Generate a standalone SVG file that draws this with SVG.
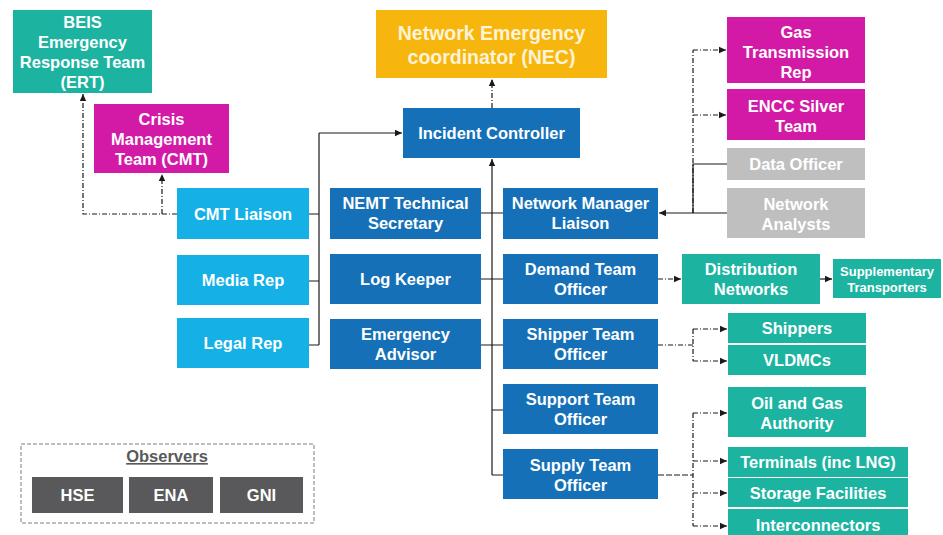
<svg xmlns="http://www.w3.org/2000/svg" width="943" height="535" viewBox="0 0 943 535">
  <style>
    .box { stroke: none; }
    .teal { fill: #1db3a1; }
    .mag { fill: #d31aa6; }
    .cyan { fill: #14b0e6; }
    .blue { fill: #1670b8; }
    .orange { fill: #f7b60e; }
    .grey { fill: #bfbfbf; }
    .dark { fill: #59595b; }
    .lbl { font-family: "Liberation Sans", Arial, sans-serif; font-weight: bold; font-size: 16.5px; fill: #ffffff; text-anchor: middle; }
    .big { font-size: 19.5px; fill: #fdf3d6; }
    .small { font-size: 13px; }
    .obs { fill: #595959; font-size: 16.5px; text-decoration: underline; }
    .ln { fill: none; stroke: #1a1a1a; stroke-width: 1.2; }
    .dd { stroke-dasharray: 5 2 1 2; }
    .dsh { stroke-dasharray: 6 2; }
  </style>
  <defs>
    <marker id="ah" markerUnits="userSpaceOnUse" markerWidth="8" markerHeight="8" refX="7" refY="4" orient="auto">
      <path d="M0,0.8 L7,4 L0,7.2 Z" fill="#1a1a1a"/>
    </marker>
  </defs>
  <rect width="943" height="535" fill="#ffffff"/>

  <!-- connectors -->
  <g id="connectors">
    <!-- CMT Liaison up to CMT and BEIS ERT -->
    <path class="ln dd" d="M177,214 H83 V94" marker-end="url(#ah)"/>
    <path class="ln dd" d="M162,214 V174" marker-end="url(#ah)"/>
    <!-- left support column into Incident Controller -->
    <path class="ln" d="M309,214 H319 M309,281 H319 M309,345 H319 M319,345 V133"/>
    <path class="ln" d="M319,133 H402" marker-end="url(#ah)"/>
    <!-- Incident Controller to NEC -->
    <path class="ln dd" d="M492,108 V79" marker-end="url(#ah)"/>
    <!-- central spine -->
    <path class="ln" d="M492,475 V159" marker-end="url(#ah)"/>
    <path class="ln" d="M481,213 H503 M481,279 H503 M481,345 H503 M492,410 H503 M492,475 H503"/>
    <!-- Network Manager Liaison group -->
    <path class="ln dd" d="M693,213 V50"/>
    <path class="ln dd" d="M693,50 H726" marker-end="url(#ah)"/>
    <path class="ln dd" d="M693,115 H726" marker-end="url(#ah)"/>
    <path class="ln" d="M727,164 H693 V213 M727,213 H693"/>
    <path class="ln" d="M693,213 H659" marker-end="url(#ah)"/>
    <!-- Demand team -->
    <path class="ln dd" d="M658,279 H681" marker-end="url(#ah)"/>
    <path class="ln" d="M820,279 H832" marker-end="url(#ah)"/>
    <!-- Shipper team -->
    <path class="ln dd" d="M658,345 H693 M693,329 V361"/>
    <path class="ln dd" d="M693,329 H727" marker-end="url(#ah)"/>
    <path class="ln dd" d="M693,361 H727" marker-end="url(#ah)"/>
    <!-- Supply team -->
    <path class="ln dsh" d="M658,475 H693"/>
    <path class="ln dd" d="M693,413 V526"/>
    <path class="ln dd" d="M693,413 H727" marker-end="url(#ah)"/>
    <path class="ln dd" d="M693,461 H727" marker-end="url(#ah)"/>
    <path class="ln dd" d="M693,493 H727" marker-end="url(#ah)"/>
    <path class="ln dd" d="M693,526 H727" marker-end="url(#ah)"/>
  </g>

  <g id="beis-ert">
    <rect class="box teal" x="13" y="10" width="139" height="83"/>
    <text class="lbl" x="82.5" y="28">BEIS<tspan x="82.5" dy="20">Emergency</tspan><tspan x="82.5" dy="20">Response Team</tspan><tspan x="82.5" dy="20">(ERT)</tspan></text>
  </g>
  <g id="cmt">
    <rect class="box mag" x="94" y="104" width="135" height="69"/>
    <text class="lbl" x="161.5" y="125">Crisis<tspan x="161.5" dy="20">Management</tspan><tspan x="161.5" dy="20">Team (CMT)</tspan></text>
  </g>
  <g id="cmt-liaison">
    <rect class="box cyan" x="177" y="188" width="132" height="51"/>
    <text class="lbl" x="243" y="220">CMT Liaison</text>
  </g>
  <g id="media-rep">
    <rect class="box cyan" x="177" y="255" width="132" height="50"/>
    <text class="lbl" x="243" y="286">Media Rep</text>
  </g>
  <g id="legal-rep">
    <rect class="box cyan" x="177" y="318" width="132" height="50"/>
    <text class="lbl" x="243" y="349">Legal Rep</text>
  </g>

  <g id="nec">
    <rect class="box orange" x="376" y="10" width="231" height="68"/>
    <text class="lbl big" x="491.5" y="40">Network Emergency<tspan x="491.5" dy="24">coordinator (NEC)</tspan></text>
  </g>
  <g id="incident-controller">
    <rect class="box blue" x="403" y="108" width="177" height="50"/>
    <text class="lbl" x="491.5" y="139">Incident Controller</text>
  </g>
  <g id="nemt-secretary">
    <rect class="box blue" x="330" y="188" width="151" height="51"/>
    <text class="lbl" x="405.5" y="209">NEMT Technical<tspan x="405.5" dy="20">Secretary</tspan></text>
  </g>
  <g id="network-manager-liaison">
    <rect class="box blue" x="503" y="188" width="155" height="51"/>
    <text class="lbl" x="580.5" y="209">Network Manager<tspan x="580.5" dy="20">Liaison</tspan></text>
  </g>
  <g id="log-keeper">
    <rect class="box blue" x="330" y="254" width="151" height="50"/>
    <text class="lbl" x="405.5" y="285">Log Keeper</text>
  </g>
  <g id="demand-team">
    <rect class="box blue" x="503" y="254" width="155" height="50"/>
    <text class="lbl" x="580.5" y="275">Demand Team<tspan x="580.5" dy="20">Officer</tspan></text>
  </g>
  <g id="emergency-advisor">
    <rect class="box blue" x="330" y="319" width="151" height="50"/>
    <text class="lbl" x="405.5" y="340">Emergency<tspan x="405.5" dy="20">Advisor</tspan></text>
  </g>
  <g id="shipper-team">
    <rect class="box blue" x="503" y="319" width="155" height="50"/>
    <text class="lbl" x="580.5" y="340">Shipper Team<tspan x="580.5" dy="20">Officer</tspan></text>
  </g>
  <g id="support-team">
    <rect class="box blue" x="503" y="384" width="155" height="50"/>
    <text class="lbl" x="580.5" y="405">Support Team<tspan x="580.5" dy="20">Officer</tspan></text>
  </g>
  <g id="supply-team">
    <rect class="box blue" x="503" y="449" width="155" height="50"/>
    <text class="lbl" x="580.5" y="471">Supply Team<tspan x="580.5" dy="20">Officer</tspan></text>
  </g>

  <g id="gas-transmission-rep">
    <rect class="box mag" x="727" y="17" width="138" height="66"/>
    <text class="lbl" x="796" y="38">Gas<tspan x="796" dy="20">Transmission</tspan><tspan x="796" dy="20">Rep</tspan></text>
  </g>
  <g id="encc-silver">
    <rect class="box mag" x="727" y="89" width="138" height="51"/>
    <text class="lbl" x="796" y="112">ENCC Silver<tspan x="796" dy="20">Team</tspan></text>
  </g>
  <g id="data-officer">
    <rect class="box grey" x="727" y="148" width="138" height="32"/>
    <text class="lbl" x="796" y="170">Data Officer</text>
  </g>
  <g id="network-analysts">
    <rect class="box grey" x="727" y="188" width="138" height="50"/>
    <text class="lbl" x="796" y="210">Network<tspan x="796" dy="20">Analysts</tspan></text>
  </g>

  <g id="distribution-networks">
    <rect class="box teal" x="682" y="254" width="138" height="50"/>
    <text class="lbl" x="751" y="275">Distribution<tspan x="751" dy="20">Networks</tspan></text>
  </g>
  <g id="supplementary-transporters">
    <rect class="box teal" x="833" y="259" width="108" height="39"/>
    <text class="lbl small" x="887" y="276">Supplementary<tspan x="887" dy="16">Transporters</tspan></text>
  </g>
  <g id="shippers">
    <rect class="box teal" x="728" y="313" width="138" height="30"/>
    <text class="lbl" x="797" y="334">Shippers</text>
  </g>
  <g id="vldmcs">
    <rect class="box teal" x="728" y="345" width="138" height="30"/>
    <text class="lbl" x="797" y="366">VLDMCs</text>
  </g>
  <g id="oil-gas-authority">
    <rect class="box teal" x="728" y="387" width="138" height="50"/>
    <text class="lbl" x="797" y="409">Oil and Gas<tspan x="797" dy="20">Authority</tspan></text>
  </g>
  <g id="terminals">
    <rect class="box teal" x="728" y="447" width="180" height="30"/>
    <text class="lbl" x="818" y="468">Terminals (inc LNG)</text>
  </g>
  <g id="storage">
    <rect class="box teal" x="728" y="478" width="180" height="29"/>
    <text class="lbl" x="818" y="499">Storage Facilities</text>
  </g>
  <g id="interconnectors">
    <rect class="box teal" x="728" y="509" width="180" height="30"/>
    <text class="lbl" x="818" y="531">Interconnectors</text>
  </g>

  <g id="observers">
    <rect x="21" y="444" width="293" height="79" fill="none" stroke="#7f7f7f" stroke-width="1" stroke-dasharray="4 2"/>
    <text class="lbl obs" x="167" y="462">Observers</text>
    <rect class="box dark" x="32" y="477" width="91" height="36"/>
    <text class="lbl" x="77.5" y="501">HSE</text>
    <rect class="box dark" x="129" y="477" width="84" height="36"/>
    <text class="lbl" x="171" y="501">ENA</text>
    <rect class="box dark" x="220" y="477" width="83" height="36"/>
    <text class="lbl" x="261.5" y="501">GNI</text>
  </g>
</svg>
